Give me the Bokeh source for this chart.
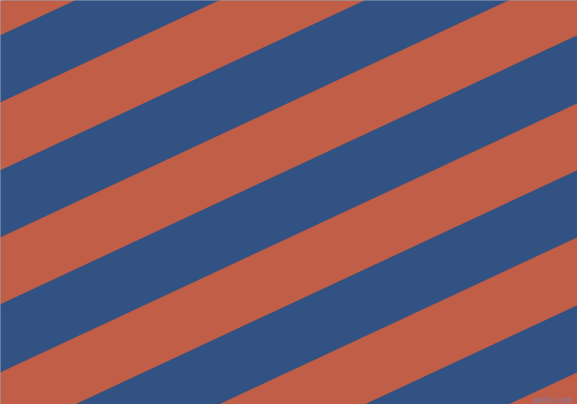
from bokeh.plotting import figure
from bokeh.models import Range1d, ColumnDataSource
from bokeh.embed import file_html
from bokeh.resources import INLINE
from bokeh.core.properties import value

# Stripe data: left-edge y-intercepts of stripe boundaries (pixels, top = 0)
boundaries = [-32, 35, 102, 170, 237, 304, 372, 439, 506, 574, 641, 708]
stripe_colors = ["#C15E47", "#315282"]
slope = 0.4663  # tan(25 deg), stripes rise to the right
watermark = "pixlis.com"

W, H = 577, 404

xs, ys, cs = [], [], []
x0, x1 = -5, W + 5
for i in range(len(boundaries) - 1):
    b1, b2 = boundaries[i], boundaries[i + 1]
    xs.append([x0, x0, x1, x1])
    ys.append([b1 - slope * x0, b2 - slope * x0, b2 - slope * x1, b1 - slope * x1])
    cs.append(stripe_colors[i % 2])

src = ColumnDataSource(dict(xs=xs, ys=ys, color=cs))

p = figure(width=W, height=H, x_range=Range1d(0, W), y_range=Range1d(H, 0),
           output_backend="svg", toolbar_location=None, min_border=0,
           background_fill_color="#315282", border_fill_color="#315282")
p.axis.visible = False
p.grid.visible = False
p.outline_line_color = None

p.patches("xs", "ys", source=src, fill_color="color", line_color="color", line_width=0.5)

p.text(x=[533], y=[399], text=[watermark], text_font=value("Liberation Sans"),
       text_font_size="9px", text_color="#7A82AE", text_alpha=0.9,
       text_baseline="alphabetic", text_align="left")

html = file_html(p, INLINE)
html = html.replace("<body>", '<body style="margin:0;overflow:hidden">', 1)
open("out.html", "w").write(html)
